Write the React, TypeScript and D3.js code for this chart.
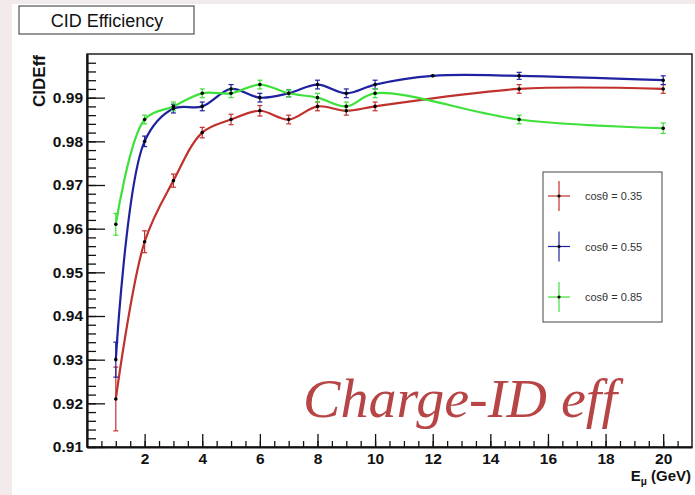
import React, { useEffect, useRef } from "react";
import * as d3 from "d3";

// energies (GeV) for each series
const energies = [1, 2, 3, 4, 5, 6, 7, 8, 9, 10, 15, 20];
const energiesBlue = [1, 2, 3, 4, 5, 6, 7, 8, 9, 10, 12, 15, 20];

const red035 = [0.921, 0.957, 0.971, 0.982, 0.985, 0.987, 0.985, 0.988, 0.987, 0.988, 0.992, 0.992];
const redErr = [0.0073, 0.0025, 0.0015, 0.0012, 0.0012, 0.0012, 0.001, 0.001, 0.001, 0.001, 0.001, 0.001];

const blue055 = [0.930, 0.980, 0.9875, 0.988, 0.992, 0.990, 0.991, 0.993, 0.991, 0.993, 0.995, 0.995, 0.994];
const blueErr = [0.004, 0.0012, 0.001, 0.001, 0.001, 0.001, 0.0008, 0.001, 0.001, 0.001, 0.0001, 0.0008, 0.001];

const green085 = [0.961, 0.985, 0.988, 0.991, 0.991, 0.993, 0.991, 0.990, 0.988, 0.991, 0.985, 0.983];
const greenErr = [0.0025, 0.001, 0.001, 0.001, 0.001, 0.001, 0.0008, 0.001, 0.001, 0.001, 0.001, 0.0012];

const legendLabels = ["cos\u03b8 = 0.35", "cos\u03b8 = 0.55", "cos\u03b8 = 0.85"];
const xTickValues = [2, 4, 6, 8, 10, 12, 14, 16, 18, 20];
const yTickValues = [0.91, 0.92, 0.93, 0.94, 0.95, 0.96, 0.97, 0.98, 0.99];

export default function App() {
  const ref = useRef<SVGSVGElement>(null);

  useEffect(() => {
    const width = 695;
    const height = 495;
    const margin = { left: 87, right: 3, top: 54, bottom: 48 };

    const svg = d3.select(ref.current);
    svg.selectAll("*").remove();

    svg.append("rect").attr("width", width).attr("height", height).attr("fill", "#f3ebeb");
    svg.append("rect").attr("x", 12).attr("y", 4).attr("width", width - 12).attr("height", height - 4).attr("fill", "#ffffff");

    const x = d3.scaleLinear().domain([0, 21]).range([margin.left, width - margin.right]);
    const y = d3.scaleLinear().domain([0.91, 1.0]).range([height - margin.bottom, margin.top]);

    // frame
    svg
      .append("rect")
      .attr("x", x(0))
      .attr("y", y(1.0))
      .attr("width", x(21) - x(0))
      .attr("height", y(0.91) - y(1.0))
      .attr("fill", "white")
      .attr("stroke", "#222")
      .attr("stroke-width", 1.5);

    const font = "'Liberation Sans', Arial, sans-serif";

    // y axis minor ticks
    const yMinor = d3.range(0.91, 1.0, 0.002);
    svg
      .append("g")
      .attr("transform", `translate(${x(0)},0)`)
      .call(d3.axisLeft(y).tickValues(yMinor).tickSize(-9).tickFormat(() => ""))
      .call((g) => g.select(".domain").remove())
      .selectAll("line")
      .attr("stroke", "#111")
      .attr("stroke-width", 1.3);

    const yAxis = svg
      .append("g")
      .attr("transform", `translate(${x(0)},0)`)
      .call(d3.axisLeft(y).tickValues(yTickValues).tickSizeInner(-18).tickSizeOuter(0).tickPadding(4).tickFormat(d3.format(".2f")));
    yAxis.select(".domain").attr("stroke", "#111").attr("stroke-width", 2.2);
    yAxis.selectAll("line").attr("stroke", "#111").attr("stroke-width", 1.3);
    yAxis
      .selectAll("text")
      .attr("font-family", font)
      .attr("font-weight", "bold")
      .attr("font-size", 15.5)
      .attr("fill", "#111");

    // x axis minor ticks
    const xMinor = d3.range(0.5, 21, 0.5);
    svg
      .append("g")
      .attr("transform", `translate(0,${y(0.91)})`)
      .call(d3.axisBottom(x).tickValues(xMinor).tickSize(-6).tickFormat(() => ""))
      .call((g) => g.select(".domain").remove())
      .selectAll("line")
      .attr("stroke", "#111")
      .attr("stroke-width", 1.3);

    const xAxis = svg
      .append("g")
      .attr("transform", `translate(0,${y(0.91)})`)
      .call(d3.axisBottom(x).tickValues(xTickValues).tickSizeInner(-13).tickSizeOuter(0).tickPadding(6).tickFormat(d3.format("d")));
    xAxis.select(".domain").attr("stroke", "#111").attr("stroke-width", 2.2);
    xAxis.selectAll("line").attr("stroke", "#111").attr("stroke-width", 1.3);
    xAxis
      .selectAll("text")
      .attr("font-family", font)
      .attr("font-weight", "bold")
      .attr("font-size", 15.5)
      .attr("fill", "#111");

    // axis titles
    const xt = svg
      .append("text")
      .attr("x", 691)
      .attr("y", 481)
      .attr("text-anchor", "end")
      .attr("font-family", font)
      .attr("font-weight", "bold")
      .attr("font-size", 15)
      .attr("fill", "#111");
    xt.append("tspan").text("E");
    xt.append("tspan").attr("font-size", 10).attr("dy", 4).text("\u03bc");
    xt.append("tspan").attr("dy", -4).text(" (GeV)");

    svg
      .append("text")
      .attr("transform", "translate(45,55) rotate(-90)")
      .attr("text-anchor", "end")
      .attr("font-family", font)
      .attr("font-weight", "bold")
      .attr("font-size", 17)
      .attr("fill", "#111")
      .text("CIDEff");

    // title box
    svg
      .append("rect")
      .attr("x", 19)
      .attr("y", 6)
      .attr("width", 175)
      .attr("height", 28)
      .attr("fill", "white")
      .attr("stroke", "#333")
      .attr("stroke-width", 1);
    svg
      .append("text")
      .attr("x", 107)
      .attr("y", 27)
      .attr("text-anchor", "middle")
      .attr("font-family", font)
      .attr("font-size", 18)
      .attr("fill", "#111")
      .text("CID Efficiency");

    const series = [
      { xs: energies, ys: red035, err: redErr, color: "#c0302c" },
      { xs: energiesBlue, ys: blue055, err: blueErr, color: "#1f22a0" },
      { xs: energies, ys: green085, err: greenErr, color: "#3ee03a" },
    ];

    const line = d3
      .line<[number, number]>()
      .x((d) => x(d[0]))
      .y((d) => y(d[1]))
      .curve(d3.curveCatmullRom.alpha(0.5));

    const plot = svg.append("g");
    series.forEach((s) => {
      const pts = s.xs.map((e, i) => [e, s.ys[i]] as [number, number]);
      plot
        .append("path")
        .datum(pts)
        .attr("d", line)
        .attr("fill", "none")
        .attr("stroke", s.color)
        .attr("stroke-width", 2.2);

      const eb = plot.append("g").attr("stroke", s.color).attr("stroke-width", 1.2);
      s.xs.forEach((e, i) => {
        const cx = x(e);
        const y1 = y(s.ys[i] + s.err[i]);
        const y2 = y(s.ys[i] - s.err[i]);
        eb.append("line").attr("x1", cx).attr("x2", cx).attr("y1", y1).attr("y2", y2);
        eb.append("line").attr("x1", cx - 2.5).attr("x2", cx + 2.5).attr("y1", y1).attr("y2", y1);
        eb.append("line").attr("x1", cx - 2.5).attr("x2", cx + 2.5).attr("y1", y2).attr("y2", y2);
      });
    });
    series.forEach((s) => {
      plot
        .append("g")
        .selectAll("circle")
        .data(s.xs.map((e, i) => [e, s.ys[i]]))
        .join("circle")
        .attr("cx", (d) => x(d[0]))
        .attr("cy", (d) => y(d[1]))
        .attr("r", 1.8)
        .attr("fill", "#000");
    });

    // legend
    svg
      .append("rect")
      .attr("x", 543)
      .attr("y", 172)
      .attr("width", 119)
      .attr("height", 150)
      .attr("fill", "white")
      .attr("stroke", "#444")
      .attr("stroke-width", 1);
    legendLabels.forEach((lab, i) => {
      const cy = 196 + i * 50.5;
      const g = svg.append("g");
      const c = series[i].color;
      g.append("line").attr("x1", 548).attr("x2", 570).attr("y1", cy).attr("y2", cy).attr("stroke", c).attr("stroke-width", 1.2);
      g.append("line").attr("x1", 559).attr("x2", 559).attr("y1", cy - 15).attr("y2", cy + 15).attr("stroke", c).attr("stroke-width", 1.2);
      g.append("circle").attr("cx", 559).attr("cy", cy).attr("r", 1.6).attr("fill", "#000");
      g.append("text")
        .attr("x", 585)
        .attr("y", cy + 4)
        .attr("font-family", font)
        .attr("font-size", 11)
        .attr("fill", "#333")
        .text(lab);
    });

    // overlay annotation
    svg
      .append("text")
      .attr("x", 303)
      .attr("y", 417)
      .attr("font-family", "'Liberation Serif', 'DejaVu Serif', serif")
      .attr("font-style", "italic")
      .attr("font-size", 54)
      .attr("fill", "#b84545")
      .attr("textLength", 314)
      .attr("lengthAdjust", "spacingAndGlyphs")
      .text("Charge-ID eff");
  }, []);

  return (
    <svg
      ref={ref}
      width={695}
      height={495}
      style={{ position: "absolute", left: 0, top: 0, display: "block" }}
    />
  );
}
